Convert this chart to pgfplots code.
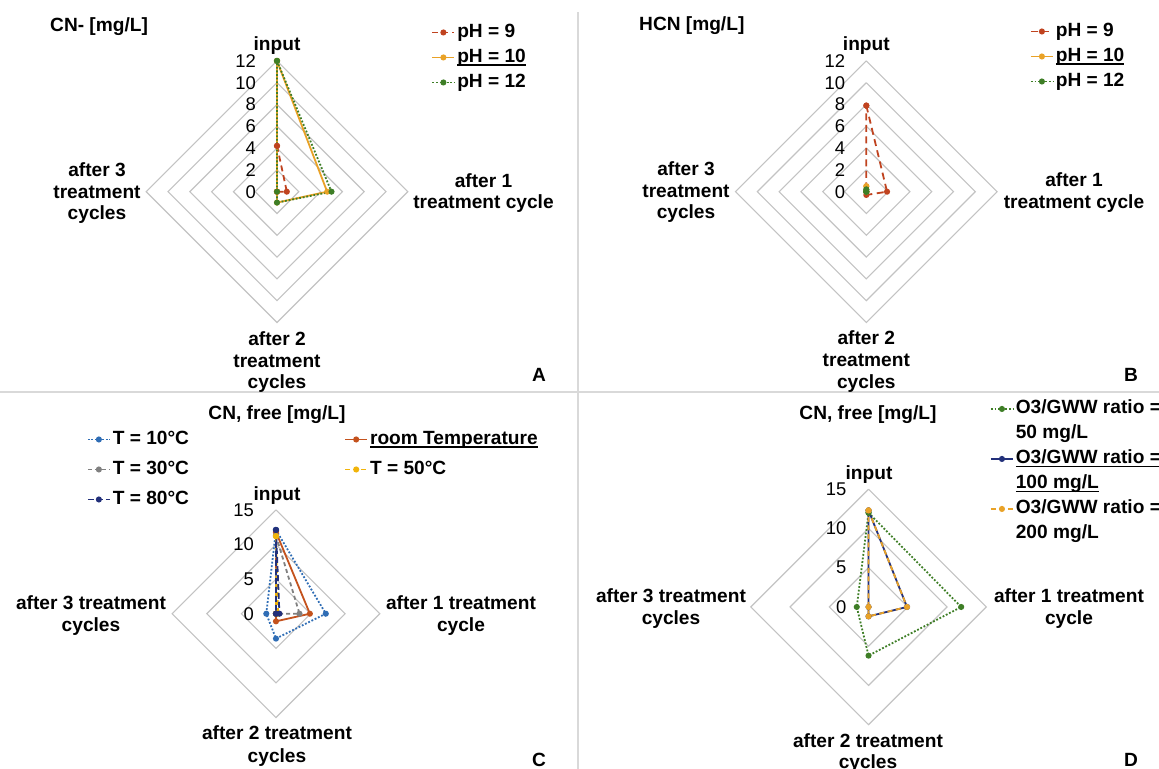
\documentclass[border=0pt]{standalone}
\usepackage{fontspec}
\setmainfont{Liberation Sans}
\usepackage{pgfplots}
\pgfplotsset{compat=1.18}

\definecolor{ringc}{HTML}{C3C3C3}
\definecolor{divider}{HTML}{D9D9D9}
\definecolor{cRed}{HTML}{C0431F}
\definecolor{cOrange}{HTML}{E9A227}
\definecolor{cGreen}{HTML}{3E7E26}
\definecolor{cBlue}{HTML}{2F6DB5}
\definecolor{cRust}{HTML}{C4521D}
\definecolor{cGray}{HTML}{808080}
\definecolor{cGold}{HTML}{F1B40A}
\definecolor{cNavy}{HTML}{22307A}

\newcommand\lbl{\fontsize{19.2}{23}\selectfont\bfseries}
\newcommand\tck{\fontsize{18.5}{22}\selectfont}
\protected\def\ul#1{\setbox0\hbox{#1}\rlap{\rule[-3.2bp]{\wd0}{1.6bp}}\box0}

% one radar line: input, after 1, after 2, after 3 (top, right, bottom, left)
\newcommand\radar[5]{\addplot[#1] coordinates {(0,#2) (#3,0) (0,-#4) (-#5,0) (0,#2)};}
\newcommand\txt[4][base]{\node[font=\lbl,anchor=#1,inner sep=0pt] at (#2,#3) {#4};}

\pgfplotsset{
  radar/.style={hide axis, clip=false, anchor=south west,
    legend cell align=left,
    legend image code/.code={\draw[mark repeat=2,mark phase=2,##1] plot coordinates {(0bp,0bp) (11bp,0bp) (22bp,0bp)};},
    legend style={draw=none, fill=none, inner sep=0pt, outer sep=0pt,
      row sep=7bp, anchor=north west, font=\lbl,
      nodes={inner sep=0pt, inner xsep=2bp, text height=14bp, text depth=4bp}}},
  ring/.style={draw=ringc, line width=1.1bp, forget plot, mark=none},
  ser/.style={line width=1.8bp, mark=*, mark size=2.1bp, mark options={solid}},
  dotA/.style={dash pattern=on 1.8bp off 1.8bp},
}

\begin{document}
\begin{tikzpicture}[x=1bp,y=1bp]
\useasboundingbox (0,0) rectangle (1159,769);
\fill[white] (0,0) rectangle (1159,769);
\clip (0,0) rectangle (1159,769);
\draw[divider, line width=1.5bp] (578,0) -- (578,757);
\draw[divider, line width=1.5bp] (0,377) -- (1159,377);

% ---------- A: CN-
\begin{axis}[radar, at={(0bp,377bp)}, x=10.9bp, y=10.9bp,
  xmin=-25.413, xmax=27.615, ymin=-18.376, ymax=17.587,
  legend style={at={(axis description cs:0.7465,0.9401)}}]
\pgfplotsinvokeforeach{2,4,...,12}{\addplot[ring] coordinates {(0,#1) (#1,0) (0,-#1) (-#1,0) (0,#1)};}
\radar{ser, cRed, dash pattern=on 6bp off 4bp}{4.2}{0.9}{0}{0}
\addlegendentry{pH = 9}
\radar{ser, cOrange}{12}{4.6}{1.0}{0}
\addlegendentry{\ul{pH = 10}}
\radar{ser, cGreen, dotA}{12}{5.0}{1.0}{0}
\addlegendentry{pH = 12}
\pgfplotsinvokeforeach{0,2,...,12}{\node[font=\tck,anchor=east,inner sep=0pt,xshift=-21bp] at (axis cs:0,#1) {#1};}
\end{axis}

% ---------- B: HCN
\begin{axis}[radar, at={(578bp,377bp)}, x=10.9bp, y=10.9bp,
  xmin=-26.45, xmax=26.85, ymin=-18.376, ymax=17.587,
  legend style={at={(axis description cs:0.7780,0.9426)}}]
\pgfplotsinvokeforeach{2,4,...,12}{\addplot[ring] coordinates {(0,#1) (#1,0) (0,-#1) (-#1,0) (0,#1)};}
\radar{ser, cRed, dash pattern=on 7bp off 4.5bp}{7.9}{1.9}{0.3}{0}
\addlegendentry{pH = 9}
\radar{ser, cOrange}{0.5}{0}{0}{0}
\addlegendentry{\ul{pH = 10}}
\radar{ser, cGreen, dotA}{0.2}{0}{0}{0}
\addlegendentry{pH = 12}
\pgfplotsinvokeforeach{0,2,...,12}{\node[font=\tck,anchor=east,inner sep=0pt,xshift=-21bp] at (axis cs:0,#1) {#1};}
\end{axis}

% ---------- C: CN free, temperature
\begin{axis}[radar, at={(0bp,0bp)}, x=6.92bp, y=6.92bp,
  xmin=-39.88, xmax=43.64, ymin=-22.44, ymax=32.04,
  legend columns=2,
  legend style={at={(axis description cs:0.1505,0.8979)}, row sep=12bp}]
\pgfplotsinvokeforeach{5,10,15}{\addplot[ring] coordinates {(0,#1) (#1,0) (0,-#1) (-#1,0) (0,#1)};}
\radar{ser, cBlue, dotA}{12.1}{7.2}{3.6}{1.4}
\addlegendentry{\makebox[229.5bp][l]{T = 10°C}}
\radar{ser, cRust}{11.8}{4.9}{1.1}{0}
\addlegendentry{\ul{room Temperature}}
\radar{ser, cGray, dash pattern=on 4bp off 3bp}{11.3}{3.4}{0}{0}
\addlegendentry{\makebox[229.5bp][l]{T = 30°C}}
\radar{ser, cGold, dash pattern=on 5bp off 3bp}{11.2}{0.3}{0}{0}
\addlegendentry{T = 50°C}
\radar{ser, cNavy, dash pattern=on 6bp off 3bp}{12.1}{0.5}{0}{0}
\addlegendentry{\makebox[229.5bp][l]{T = 80°C}}
\pgfplotsinvokeforeach{0,5,10,15}{\node[font=\tck,anchor=east,inner sep=0pt,xshift=-22bp] at (axis cs:0,#1) {#1};}
\end{axis}

% ---------- D: CN free, ozone ratio
\begin{axis}[radar, at={(578bp,0bp)}, x=7.85bp, y=7.85bp,
  xmin=-37.01, xmax=37.01, ymin=-20.64, ymax=27.39,
  legend style={at={(axis description cs:0.7091,0.9788)}}]
\pgfplotsinvokeforeach{5,10,15}{\addplot[ring] coordinates {(0,#1) (#1,0) (0,-#1) (-#1,0) (0,#1)};}
\radar{ser, cGreen, dotA}{12.0}{11.8}{6.2}{1.5}
\addlegendentry{O3/GWW ratio =}
\addlegendimage{empty legend}
\addlegendentry{50 mg/L}
\radar{ser, cNavy}{12.3}{4.9}{1.2}{0}
\addlegendentry{\ul{O3/GWW ratio =}}
\addlegendimage{empty legend}
\addlegendentry{\ul{100 mg/L}}
\radar{ser, cOrange, dash pattern=on 5bp off 3.5bp}{12.3}{4.9}{1.2}{0}
\addlegendentry{O3/GWW ratio =}
\addlegendimage{empty legend}
\addlegendentry{200 mg/L}
\pgfplotsinvokeforeach{0,5,10,15}{\node[font=\tck,anchor=east,inner sep=0pt,xshift=-22bp] at (axis cs:0,#1) {#1};}
\end{axis}

% ---------- category and panel labels
\txt[base west]{50}{737.5}{CN- [mg/L]}
\txt{277}{718.5}{input}
\txt{483.5}{581.5}{after 1}
\txt{483.5}{560.5}{treatment cycle}
\txt{97}{592.5}{after 3}
\txt{97}{570.5}{treatment}
\txt{97}{549.5}{cycles}
\txt{277}{423.5}{after 2}
\txt{277}{401.5}{treatment}
\txt{277}{380.5}{cycles}
\txt{539}{387.5}{A}

\txt[base west]{639}{738.5}{HCN [mg/L]}
\txt{866.3}{718.5}{input}
\txt{1074}{582.5}{after 1}
\txt{1074}{560.5}{treatment cycle}
\txt{686}{593.5}{after 3}
\txt{686}{571.5}{treatment}
\txt{686}{550.5}{cycles}
\txt{866.3}{424.5}{after 2}
\txt{866.3}{402.5}{treatment}
\txt{866.3}{380.5}{cycles}
\txt{1131}{387.5}{B}

\txt{277}{349.5}{CN, free [mg/L]}
\txt{277}{268.5}{input}
\txt{461}{159.5}{after 1 treatment}
\txt{461}{137.5}{cycle}
\txt{91}{159.5}{after 3 treatment}
\txt{91}{137.5}{cycles}
\txt{277}{29.5}{after 2 treatment}
\txt{277}{6.5}{cycles}
\txt{539}{2.5}{C}

\txt{868}{349.5}{CN, free [mg/L]}
\txt{869}{289.5}{input}
\txt{1069}{166.5}{after 1 treatment}
\txt{1069}{144.5}{cycle}
\txt{671}{166.5}{after 3 treatment}
\txt{671}{144.5}{cycles}
\txt{868}{21.5}{after 2 treatment}
\txt{868}{0.5}{cycles}
\txt{1131}{2.5}{D}
\end{tikzpicture}
\end{document}
